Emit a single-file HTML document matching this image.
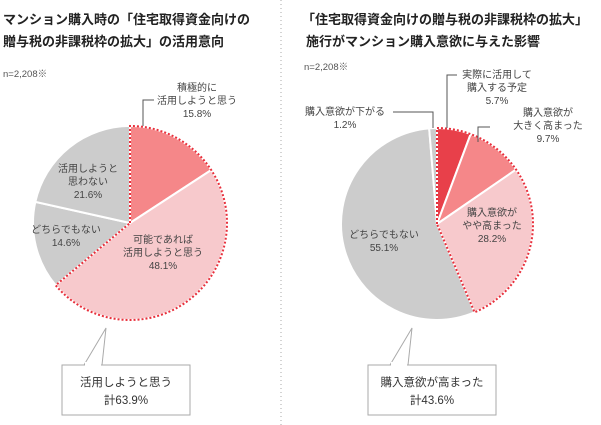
<!DOCTYPE html>
<html><head><meta charset="utf-8"><style>
body{margin:0;background:#fff;}
svg{display:block;font-family:"Liberation Sans","Noto Sans CJK JP",sans-serif;}
.t{font-size:13px;font-weight:bold;fill:#222;}
.l{font-size:10px;fill:#444;text-anchor:middle;}
.b{font-size:11.5px;fill:#333;text-anchor:middle;}
</style></head><body>
<svg id="s" width="601" height="425" viewBox="0 0 601 425">
<line x1="281" y1="0" x2="281" y2="425" stroke="#aaa" stroke-dasharray="1,3"/>
<text class="t" x="3" y="24">マンション購入時の「住宅取得資金向けの</text>
<text class="t" x="3" y="46">贈与税の非課税枠の拡大」の活用意向</text>
<text class="t" x="302" y="24">「住宅取得資金向けの贈与税の非課税枠の拡大」</text>
<text class="t" x="306" y="46">施行がマンション購入意欲に与えた影響</text>
<text x="3" y="77" style="font-size:9.5px;fill:#555">n=2,208※</text>
<text x="304" y="70" style="font-size:9.5px;fill:#555">n=2,208※</text>
<g id="p1"></g><g id="p2"></g>
<g fill="none" stroke="#555" stroke-width="1">
<polyline points="143,126 143,100 154,100"/>
<polyline points="447,128 447,75 457,75"/>
<polyline points="478,142 478,127 490,127"/>
<polyline points="393,112 433,112 433,128"/>
</g>
<text class="l" x="197" y="91">積極的に</text><text class="l" x="197" y="104">活用しようと思う</text><text class="l" x="197" y="117">15.8%</text>
<text class="l" x="88" y="172">活用しようと</text><text class="l" x="88" y="185">思わない</text><text class="l" x="88" y="198">21.6%</text>
<text class="l" x="66" y="233">どちらでもない</text><text class="l" x="66" y="246">14.6%</text>
<text class="l" x="163" y="243">可能であれば</text><text class="l" x="163" y="256">活用しようと思う</text><text class="l" x="163" y="269">48.1%</text>
<text class="l" x="497" y="78">実際に活用して</text><text class="l" x="497" y="91">購入する予定</text><text class="l" x="497" y="104">5.7%</text>
<text class="l" x="548" y="116">購入意欲が</text><text class="l" x="548" y="129">大きく高まった</text><text class="l" x="548" y="142">9.7%</text>
<text class="l" x="345" y="115">購入意欲が下がる</text><text class="l" x="345" y="128">1.2%</text>
<text class="l" x="492" y="216">購入意欲が</text><text class="l" x="492" y="229">やや高まった</text><text class="l" x="492" y="242">28.2%</text>
<text class="l" x="384" y="238">どちらでもない</text><text class="l" x="384" y="251">55.1%</text>
<path d="M84,365 L106,328 L102,365" fill="#fff" stroke="#aaa"/>
<rect x="62" y="365" width="128" height="50" fill="#fff" stroke="#aaa"/>
<rect x="85" y="362" width="16" height="4" fill="#fff"/>
<text class="b" x="126" y="386">活用しようと思う</text><text class="b" x="126" y="404">計63.9%</text>
<path d="M390,365 L412,328 L408,365" fill="#fff" stroke="#aaa"/>
<rect x="368" y="365" width="128" height="50" fill="#fff" stroke="#aaa"/>
<rect x="391" y="362" width="16" height="4" fill="#fff"/>
<text class="b" x="432" y="386">購入意欲が高まった</text><text class="b" x="432" y="404">計43.6%</text>
</svg>
<script>
function pt(cx,cy,r,f){var a=f*2*Math.PI;return [cx+r*Math.sin(a),cy-r*Math.cos(a)];}
function pie(id,cx,cy,r,data,hl){
 var g=document.getElementById(id),s=0,h="";
 data.forEach(function(d){var e=s+d[0]/100,p0=pt(cx,cy,r,s),p1=pt(cx,cy,r,e);
  h+='<path d="M'+cx+','+cy+' L'+p0+' A'+r+','+r+' 0 '+((e-s)>0.5?1:0)+' 1 '+p1+' Z" fill="'+d[1]+'" stroke="#fff" stroke-width="2"/>';s=e;});
 var p0=pt(cx,cy,r,0),p1=pt(cx,cy,r,hl);
 h+='<path d="M'+cx+','+cy+' L'+p0+' A'+r+','+r+' 0 '+(hl>0.5?1:0)+' 1 '+p1+' Z" fill="none" stroke="#e8303c" stroke-width="2" stroke-dasharray="2,2"/>';
 g.innerHTML=h;}
pie("p1",130,223,97,[[15.8,"#f58789"],[48.1,"#f7c9cc"],[14.6,"#cccccc"],[21.5,"#cccccc"]],0.639);
pie("p2",437,224,96,[[5.7,"#e8404a"],[9.7,"#f58789"],[28.2,"#f7c9cc"],[55.1,"#cccccc"],[1.3,"#cccccc"]],0.436);
</script>
</body></html>
